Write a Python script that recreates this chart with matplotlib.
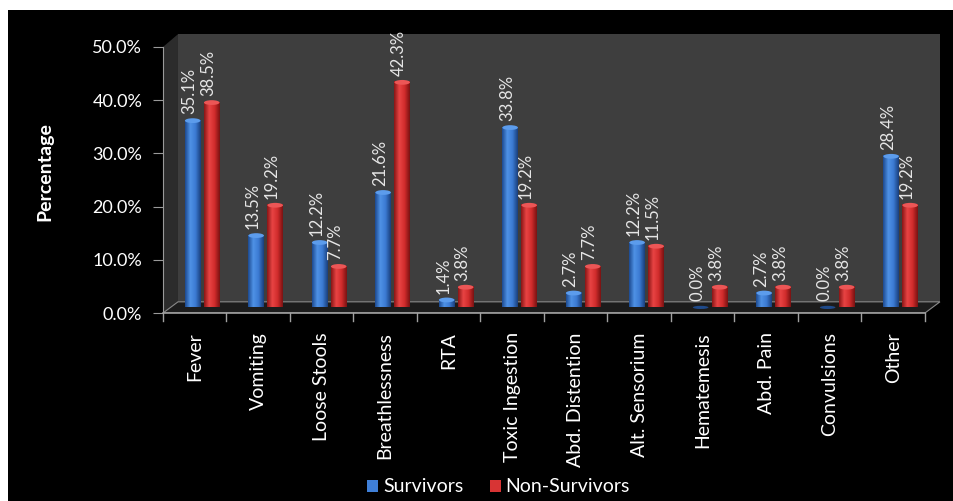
import numpy as np
import matplotlib.pyplot as plt
from matplotlib.patches import Polygon, Rectangle, Ellipse
from matplotlib.colors import LinearSegmentedColormap

plt.rcParams["font.family"] = ["Lato", "DejaVu Sans"]

categories = ["Fever", "Vomiting", "Loose Stools", "Breathlessness", "RTA",
              "Toxic Ingestion", "Abd. Distention", "Alt. Sensorium",
              "Hematemesis", "Abd. Pain", "Convulsions", "Other"]
survivors = [35.1, 13.5, 12.2, 21.6, 1.4, 33.8, 2.7, 12.2, 0.0, 2.7, 0.0, 28.4]
non_survivors = [38.5, 19.2, 7.7, 42.3, 3.8, 19.2, 7.7, 11.5, 3.8, 3.8, 3.8, 19.2]
yticks = [0, 10, 20, 30, 40, 50]

fig = plt.figure(figsize=(9.54, 5.01), dpi=100, facecolor="white")
# black chart area (white margin on the top and left)
fig.patches.append(Rectangle((8 / 954, 0), 1, 491 / 501, transform=fig.transFigure,
                             facecolor="black", edgecolor="none", zorder=-5))

ax = fig.add_axes([163 / 954, 188 / 501, 781 / 954, 282 / 501])
ax.set_facecolor("none")

# depth of the pseudo-3D box, in data units
dx, dy = 0.236, 2.1
n = len(categories)

# back wall, side wall and floor
ax.add_patch(Polygon([(dx, dy), (n + dx, dy), (n + dx, 50 + dy + 0.3), (dx, 50 + dy + 0.3)],
                     closed=True, facecolor="#3e3e3e", edgecolor="none", zorder=1))
ax.add_patch(Polygon([(0, 0), (dx, dy), (dx, 50 + dy + 0.3), (0, 50)],
                     closed=True, facecolor="#2c2c2c", edgecolor="none", zorder=1))
ax.add_patch(Polygon([(0, 0), (n, 0), (n + dx, dy), (dx, dy)],
                     closed=True, facecolor="#1c1c1c", edgecolor="#8a8a8a", lw=0.8, zorder=2))

blue_cm = LinearSegmentedColormap.from_list("b", ["#1d4a90", "#4f92e6", "#3b7ad2", "#1a3f7c"])
red_cm = LinearSegmentedColormap.from_list("r", ["#8a1616", "#e84444", "#d12c2c", "#7a1212"])
grad = np.linspace(0, 1, 64).reshape(1, -1)

bw = 0.245
base = dy / 2
for i in range(n):
    for j, (vals, cm, top) in enumerate([(survivors, blue_cm, "#5c9cec"),
                                         (non_survivors, red_cm, "#ec5656")]):
        x0 = i + 0.345 + j * 0.30
        h = vals[i]
        if h > 0:
            ax.imshow(grad, cmap=cm, aspect="auto", extent=(x0, x0 + bw, base, base + h),
                      zorder=3, interpolation="bilinear")
            ax.add_patch(Ellipse((x0 + bw / 2, base + h), bw, 0.9, facecolor=top,
                                 edgecolor="none", zorder=4))
        else:
            ax.add_patch(Ellipse((x0 + bw / 2, base), bw, 0.6, facecolor="#1f4a8a",
                                 edgecolor="none", zorder=4))
        ax.text(x0 + bw / 2 - 0.05, base + h + 1.2, f"{h:.1f}%", rotation=90,
                ha="center", va="bottom", color="#e6e6e6", fontsize=12, zorder=5)

ax.set_xlim(0, 12.3)
ax.set_ylim(0, 53)

# axes lines and ticks
for side in ["top", "right", "bottom"]:
    ax.spines[side].set_visible(False)
ax.spines["left"].set_bounds(0, 50)
ax.spines["left"].set_color("#9a9a9a")
ax.plot([0, n], [0, 0], color="#a0a0a0", lw=1.2, zorder=6, clip_on=False)
for i in range(n + 1):
    ax.plot([i, i], [0, -1.5], color="#a0a0a0", lw=1.0, clip_on=False)

ax.set_yticks(yticks)
ax.set_yticklabels([f"{v:.1f}%" for v in yticks], fontsize=13, color="white")
ax.tick_params(axis="y", colors="#9a9a9a", length=7, labelcolor="white", pad=8)
ax.set_xticks([])
for i, c in enumerate(categories):
    ax.text(i + 0.5, -3.6, c, rotation=90, ha="center", va="top",
            color="white", fontsize=14)

ax.set_ylabel("Percentage", color="white", fontsize=14, fontweight="bold", labelpad=28)

# legend
fig.patches.append(Rectangle((367 / 954, 9 / 501), 11 / 954, 12 / 501,
                             transform=fig.transFigure, facecolor="#3f7fd8", zorder=3))
fig.text(383 / 954, 14 / 501, "Survivors", color="white", fontsize=14, va="center")
fig.patches.append(Rectangle((490 / 954, 9 / 501), 11 / 954, 12 / 501,
                             transform=fig.transFigure, facecolor="#d83434", zorder=3))
fig.text(505 / 954, 14 / 501, "Non-Survivors", color="white", fontsize=14, va="center")

fig.savefig("out.png", dpi=100, facecolor=fig.get_facecolor())
